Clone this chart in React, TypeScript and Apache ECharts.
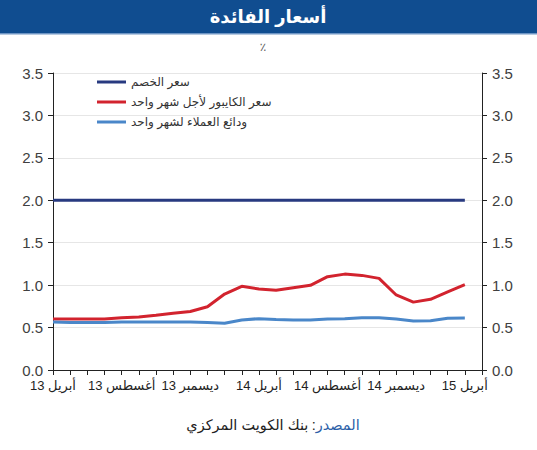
import React, { useEffect, useRef } from "react";
import * as echarts from "echarts";

const categories = [
  "13 أبريل", "May13", "Jun13", "Jul13",
  "13 أغسطس", "Sep13", "Oct13", "Nov13",
  "13 ديسمبر", "Jan14", "Feb14", "Mar14",
  "14 أبريل", "May14", "Jun14", "Jul14",
  "14 أغسطس", "Sep14", "Oct14", "Nov14",
  "14 ديسمبر", "Jan15", "Feb15", "Mar15",
  "15 أبريل", "May15",
];

const discountRate = [
  2.0, 2.0, 2.0, 2.0, 2.0, 2.0, 2.0, 2.0, 2.0, 2.0, 2.0, 2.0, 2.0,
  2.0, 2.0, 2.0, 2.0, 2.0, 2.0, 2.0, 2.0, 2.0, 2.0, 2.0, 2.0,
];

const kibor1m = [
  0.6, 0.6, 0.6, 0.6, 0.615, 0.625, 0.645, 0.668, 0.69, 0.746, 0.895, 0.986,
  0.954, 0.94, 0.97, 0.998, 1.1, 1.13, 1.115, 1.08, 0.884, 0.8, 0.833, 0.92, 1.005,
];

const deposits1m = [
  0.565, 0.56, 0.56, 0.56, 0.565, 0.565, 0.565, 0.565, 0.565, 0.56, 0.55, 0.59,
  0.605, 0.595, 0.59, 0.59, 0.6, 0.605, 0.617, 0.617, 0.6, 0.577, 0.58, 0.61, 0.613,
];

const seriesNames = ["سعر الخصم", "سعر الكايبور لأجل شهر واحد", "ودائع العملاء لشهر واحد"];
const seriesColors = ["#283A80", "#D2232E", "#4A87C9"];
const yTicks = { min: 0, max: 3.5, interval: 0.5 };

const shownLabels = new Set([0, 4, 8, 12, 16, 20, 24]);

export default function App() {
  const ref = useRef<HTMLDivElement>(null);
  useEffect(() => {
    if (!ref.current) return;
    const chart = echarts.init(ref.current, null, { renderer: "svg" });
    const font = "Arial, 'Liberation Sans', 'DejaVu Sans', sans-serif";
    const yAxisBase = {
      type: "value" as const,
      min: yTicks.min,
      max: yTicks.max,
      interval: yTicks.interval,
      axisLine: { show: true, lineStyle: { color: "#222", width: 1 } },
      axisTick: { show: true, length: 5, lineStyle: { color: "#222" } },
      axisLabel: {
        color: "#404040",
        fontSize: 15,
        fontFamily: font,
        margin: 10,
        formatter: (v: number) => v.toFixed(1),
      },
    };
    chart.setOption({
      animation: false,
      backgroundColor: "#fff",
      textStyle: { fontFamily: font },
      graphic: [
        {
          type: "rect",
          shape: { x: 0, y: 0, width: 537, height: 33 },
          style: { fill: "#104D90" },
          silent: true,
        },
        {
          type: "rect",
          shape: { x: 0, y: 33, width: 537, height: 1.5 },
          style: { fill: "#6E95C4" },
          silent: true,
        },
        {
          type: "text",
          x: 268,
          y: 17,
          style: {
            text: "أسعار الفائدة",
            fill: "#fff",
            font: "bold 18px Arial, 'DejaVu Sans', sans-serif",
            align: "center",
            verticalAlign: "middle",
          },
        },
        {
          type: "text",
          x: 263,
          y: 47,
          style: {
            text: "٪",
            fill: "#555555",
            font: "12px 'DejaVu Sans', sans-serif",
            align: "center",
            verticalAlign: "middle",
          },
        },
        {
          type: "text",
          x: 273,
          y: 425,
          style: {
            text: "{a|بنك الكويت المركزي} {a|:}{b|المصدر}",
            align: "center",
            verticalAlign: "middle",
            rich: {
              a: { fill: "#222", fontSize: 14.5, fontFamily: "Arial, 'DejaVu Sans', sans-serif" },
              b: { fill: "#2C5FA8", fontSize: 14.5, fontFamily: "Arial, 'DejaVu Sans', sans-serif" },
            },
          },
        },
      ],
      legend: {
        orient: "vertical",
        left: 92,
        top: 71,
        icon: "rect",
        itemWidth: 29,
        itemHeight: 3,
        itemGap: 8,
        textStyle: { fontSize: 12, color: "#333", fontFamily: font },
        data: seriesNames,
      },
      grid: { left: 53, right: 55, top: 73, bottom: 80 },
      xAxis: {
        type: "category",
        data: categories,
        boundaryGap: false,
        axisLine: { show: true, onZero: false, lineStyle: { color: "#222" } },
        axisTick: { show: true, interval: 0, length: 5, lineStyle: { color: "#222" } },
        axisLabel: {
          interval: 0,
          color: "#222",
          fontSize: 13,
          fontFamily: font,
          margin: 9,
          formatter: (v: string, i: number) => (shownLabels.has(i) ? v : ""),
        },
        splitLine: { show: false },
      },
      yAxis: [
        {
          ...yAxisBase,
          position: "left",
          splitLine: { show: true, lineStyle: { color: "#E6E6E6", width: 1 } },
        },
        {
          ...yAxisBase,
          position: "right",
          splitLine: { show: false },
        },
      ],
      series: [
        {
          name: seriesNames[0],
          type: "line",
          data: discountRate,
          showSymbol: false,
          lineStyle: { color: seriesColors[0], width: 3 },
          itemStyle: { color: seriesColors[0] },
        },
        {
          name: seriesNames[1],
          type: "line",
          data: kibor1m,
          showSymbol: false,
          lineStyle: { color: seriesColors[1], width: 3 },
          itemStyle: { color: seriesColors[1] },
        },
        {
          name: seriesNames[2],
          type: "line",
          data: deposits1m,
          showSymbol: false,
          lineStyle: { color: seriesColors[2], width: 3 },
          itemStyle: { color: seriesColors[2] },
        },
      ],
    });
    return () => chart.dispose();
  }, []);
  return (
    <div
      ref={ref}
      style={{ position: "fixed", left: 0, top: 0, width: 537, height: 450 }}
    />
  );
}
